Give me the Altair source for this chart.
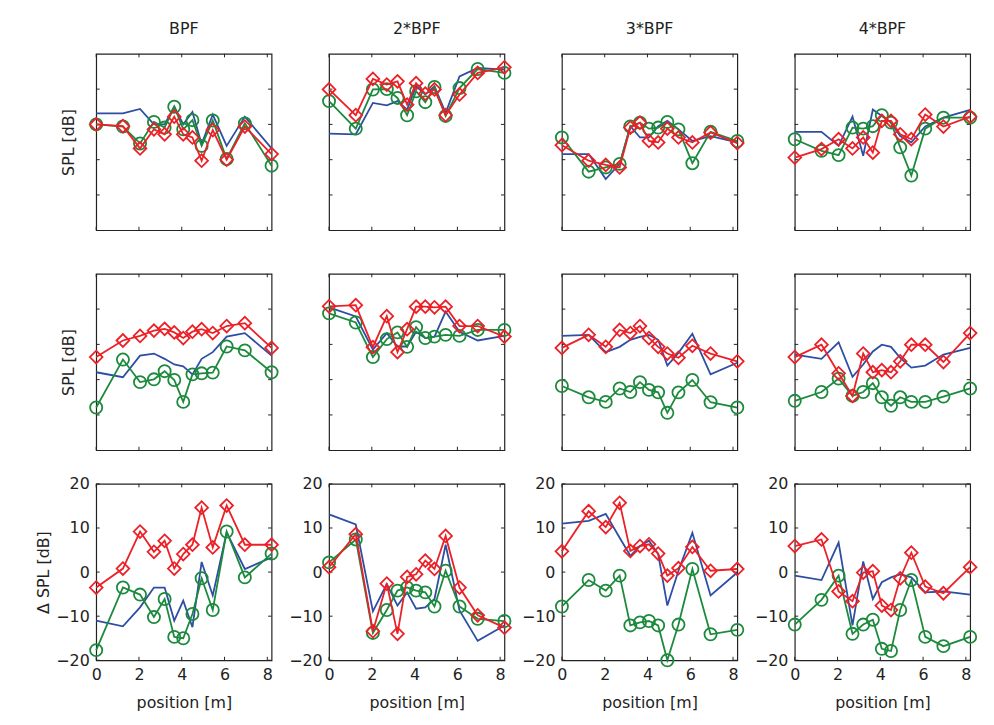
import altair as alt
import pandas as pd

# ---------------- data ----------------
positions = [0, 1.25, 2.05, 2.7, 3.2, 3.65, 4.07, 4.5, 4.93, 5.45, 6.1, 6.95, 8.2]
harmonics = ["BPF", "2*BPF", "3*BPF", "4*BPF"]
x_ticks = [0, 2, 4, 6, 8]
spl_ticks = [10, 20, 30, 40]
dspl_ticks = [-20, -10, 0, 10, 20]

# row 1: SPL (relative, unlabeled axis 0..50)
r1_blue_h1 = [33.1, 33.1, 34.4, 30.0, 30.0, 35.1, 30.0, 33.5, 24.4, 32.8, 23.9, 32.2, 23.2]
r1_green_h1 = [30.0, 29.4, 24.6, 30.7, 29.1, 35.0, 28.6, 31.2, 23.9, 31.1, 20.2, 30.3, 18.3]
r1_red_h1 = [30.0, 29.5, 23.2, 28.6, 27.2, 32.2, 27.2, 26.3, 19.7, 28.4, 20.0, 29.4, 21.6]

r1_blue_h2 = [27.4, 27.2, 36.1, 35.4, 36.6, 34.2, 40.8, 38.5, 40.8, 33.3, 43.6, 46.0, 45.5]
r1_green_h2 = [36.6, 28.8, 39.9, 40.0, 37.5, 32.6, 39.4, 36.3, 40.6, 32.4, 40.3, 45.7, 44.6]
r1_red_h2 = [39.9, 32.6, 42.9, 41.3, 42.2, 35.6, 41.7, 38.7, 39.9, 32.6, 38.5, 44.6, 46.2]

r1_blue_h3 = [21.6, 21.6, 14.5, 18.8, 29.5, 26.3, 26.3, 29.5, 31.0, 28.6, 25.3, 26.7, 24.9]
r1_green_h3 = [26.3, 16.6, 17.8, 18.8, 29.4, 30.5, 28.8, 29.1, 30.7, 28.6, 19.0, 27.9, 25.3]
r1_red_h3 = [24.1, 19.7, 18.5, 17.8, 29.1, 30.5, 25.3, 24.9, 28.8, 26.3, 24.9, 27.7, 24.7]

r1_blue_h4 = [27.9, 27.9, 23.9, 32.2, 21.1, 34.2, 32.4, 30.5, 26.7, 24.9, 29.4, 31.9, 34.1]
r1_green_h4 = [25.8, 22.5, 21.3, 29.1, 28.8, 29.5, 32.6, 30.5, 23.5, 15.5, 28.8, 31.9, 31.9]
r1_red_h4 = [20.6, 23.0, 25.8, 23.2, 26.3, 22.0, 31.0, 31.0, 27.2, 25.8, 32.8, 29.4, 32.2]

# row 2: SPL (relative, unlabeled axis 0..50)
r2_blue_h1 = [22.1, 20.7, 26.8, 27.4, 25.9, 24.3, 23.8, 21.5, 25.9, 27.8, 32.2, 33.2, 26.8]
r2_green_h1 = [12.1, 25.7, 19.3, 20.1, 22.4, 19.9, 13.7, 21.5, 21.8, 22.0, 29.4, 28.3, 22.1]
r2_red_h1 = [26.4, 31.1, 32.4, 33.9, 34.4, 33.4, 31.8, 33.6, 34.3, 33.2, 35.2, 36.0, 29.0]

r2_blue_h2 = [40.5, 37.9, 28.5, 33.2, 29.4, 29.4, 33.6, 31.8, 32.2, 39.3, 33.6, 31.1, 32.4]
r2_green_h2 = [38.8, 36.2, 26.4, 31.5, 33.4, 29.3, 34.9, 31.8, 32.2, 32.7, 32.4, 34.1, 34.1]
r2_red_h2 = [40.8, 41.1, 29.2, 38.0, 27.8, 34.3, 40.7, 40.7, 40.5, 40.7, 35.2, 35.2, 32.2]

r2_blue_h3 = [32.4, 32.7, 27.8, 29.3, 31.3, 32.1, 32.7, 31.3, 24.0, 27.6, 33.0, 21.5, 24.8]
r2_green_h3 = [18.2, 15.0, 13.7, 17.5, 16.5, 19.3, 17.1, 16.4, 10.6, 16.4, 19.9, 13.6, 12.1]
r2_red_h3 = [29.0, 32.7, 29.3, 34.1, 33.2, 35.2, 31.8, 29.3, 27.4, 26.2, 29.6, 27.4, 25.2]

r2_blue_h4 = [27.1, 25.9, 30.6, 20.8, 24.3, 28.0, 29.9, 29.3, 26.2, 23.4, 24.0, 27.1, 29.0]
r2_green_h4 = [14.0, 16.5, 20.3, 15.4, 16.5, 19.0, 15.0, 12.6, 15.0, 13.7, 13.7, 15.2, 17.5]
r2_red_h4 = [26.4, 29.9, 21.8, 15.4, 27.4, 22.1, 22.7, 22.1, 25.2, 29.9, 29.9, 25.0, 33.2]

# row 3: delta SPL [dB]
r3_blue_h1 = [-11.0, -12.3, -8.0, -3.5, -3.5, -11.0, -6.5, -12.5, 2.3, -5.3, 9.0, 0.7, 3.3]
r3_green_h1 = [-17.7, -3.5, -5.1, -10.2, -6.1, -14.7, -15.0, -9.5, -1.4, -8.6, 9.2, -1.2, 4.2]
r3_red_h1 = [-3.5, 0.8, 9.2, 4.6, 7.1, 0.8, 4.1, 6.2, 14.6, 5.6, 15.1, 6.2, 6.2]

r3_blue_h2 = [13.1, 10.8, -8.9, -2.7, -7.6, -4.6, -8.3, -8.0, -6.1, 6.2, -8.7, -15.6, -12.1]
r3_green_h2 = [2.2, 7.4, -13.8, -8.6, -4.2, -3.5, -4.2, -4.6, -7.8, 0.3, -7.8, -10.6, -11.1]
r3_red_h2 = [1.1, 8.6, -13.4, -2.6, -14.0, -1.1, -0.5, 2.6, 0.7, 8.2, -3.5, -9.8, -12.6]

r3_blue_h3 = [11.0, 11.6, 13.2, 7.8, 3.7, 5.9, 7.1, 4.1, -7.6, 0.3, 8.9, -5.3, -0.1]
r3_green_h3 = [-7.8, -1.8, -4.2, -0.8, -12.1, -11.4, -11.1, -12.1, -20.0, -11.9, 0.7, -14.1, -13.1]
r3_red_h3 = [4.7, 13.8, 10.2, 15.7, 4.8, 5.9, 6.3, 4.2, -0.8, 0.9, 5.7, 0.3, 0.7]

r3_blue_h4 = [-0.8, -1.8, 6.7, -12.1, 2.4, -6.1, -2.3, -1.2, -0.5, -1.2, -4.6, -4.4, -5.1]
r3_green_h4 = [-11.9, -6.3, -0.8, -14.0, -11.9, -10.8, -17.4, -17.9, -8.6, -1.8, -14.7, -16.8, -14.7]
r3_red_h4 = [5.9, 7.4, -4.4, -6.6, -0.1, 0.2, -7.6, -8.6, -1.4, 4.4, -3.3, -4.8, 1.1]

rows = [
    [(r1_blue_h1, r1_green_h1, r1_red_h1), (r1_blue_h2, r1_green_h2, r1_red_h2),
     (r1_blue_h3, r1_green_h3, r1_red_h3), (r1_blue_h4, r1_green_h4, r1_red_h4)],
    [(r2_blue_h1, r2_green_h1, r2_red_h1), (r2_blue_h2, r2_green_h2, r2_red_h2),
     (r2_blue_h3, r2_green_h3, r2_red_h3), (r2_blue_h4, r2_green_h4, r2_red_h4)],
    [(r3_blue_h1, r3_green_h1, r3_red_h1), (r3_blue_h2, r3_green_h2, r3_red_h2),
     (r3_blue_h3, r3_green_h3, r3_red_h3), (r3_blue_h4, r3_green_h4, r3_red_h4)],
]

# ---------------- style ----------------
W, H = 177, 178
TL = 3.5
BLUE, GREEN, RED = "#2c4ea3", "#1c8a3c", "#ec2027"
INK = "#222222"
FONT = "DejaVu Sans"
FS = 16
LW = 1.8


def make_panel(row, col, blue, green, red):
    df = pd.DataFrame({"pos": positions, "blue": blue, "green": green, "red": red})
    xscale = alt.Scale(domain=[0, 8.2], nice=False, zero=False)
    if row == 2:
        yscale = alt.Scale(domain=[-20, 20], nice=False, zero=False)
        yt = dspl_ticks
    else:
        yscale = alt.Scale(domain=[0, 50], nice=False, zero=False)
        yt = spl_ticks

    if row == 2:
        xaxis = alt.Axis(values=x_ticks, ticks=False, domain=False, grid=False,
                         labelPadding=6, titlePadding=13, labelFlush=False)
        xtitle = "position [m]"
    else:
        xaxis = None
        xtitle = None

    if col == 0 and row == 2:
        yaxis = alt.Axis(values=dspl_ticks, ticks=False, domain=False, grid=False,
                         labelPadding=7, titlePadding=4, labelFlush=False)
        ytitle = "Δ SPL [dB]"
    elif col == 0:
        yaxis = alt.Axis(labels=False, ticks=False, domain=False, grid=False, titlePadding=20)
        ytitle = "SPL [dB]"
    elif row == 2:
        yaxis = alt.Axis(values=dspl_ticks, ticks=False, domain=False, grid=False,
                         labelPadding=7, labelFlush=False)
        ytitle = None
    else:
        yaxis = None
        ytitle = None

    def X(f):
        return alt.X(f, scale=xscale, axis=xaxis, title=xtitle)

    def Y(f):
        return alt.Y(f, scale=yscale, axis=yaxis, title=ytitle)

    base = alt.Chart(df)
    blue_line = base.mark_line(color=BLUE, strokeWidth=LW).encode(x=X("pos:Q"), y=Y("blue:Q"))
    green_line = base.mark_line(color=GREEN, strokeWidth=LW).encode(x=X("pos:Q"), y=Y("green:Q"))
    green_pts = base.mark_point(shape="circle", filled=False, size=150, strokeWidth=LW,
                                color=GREEN, opacity=1).encode(x=X("pos:Q"), y=Y("green:Q"))
    red_line = base.mark_line(color=RED, strokeWidth=LW).encode(x=X("pos:Q"), y=Y("red:Q"))
    red_pts = base.mark_point(shape="diamond", filled=False, size=165, strokeWidth=LW,
                              color=RED, opacity=1).encode(x=X("pos:Q"), y=Y("red:Q"))

    xt_df = pd.DataFrame({"t": x_ticks})
    yt_df = pd.DataFrame({"t": yt})
    tb = alt.Chart(xt_df).mark_rule(color=INK, strokeWidth=1).encode(
        x=X("t:Q"), y=alt.value(H), y2=alt.value(H - TL))
    tt = alt.Chart(xt_df).mark_rule(color=INK, strokeWidth=1).encode(
        x=X("t:Q"), y=alt.value(0), y2=alt.value(TL))
    tl = alt.Chart(yt_df).mark_rule(color=INK, strokeWidth=1).encode(
        y=Y("t:Q"), x=alt.value(0), x2=alt.value(TL))
    tr = alt.Chart(yt_df).mark_rule(color=INK, strokeWidth=1).encode(
        y=Y("t:Q"), x=alt.value(W), x2=alt.value(W - TL))

    layer = alt.layer(tb, tt, tl, tr, blue_line, green_line, green_pts, red_line, red_pts)
    if row == 0:
        layer = layer.properties(width=W, height=H,
                                 title=alt.TitleParams(text=harmonics[col], fontSize=FS,
                                                       fontWeight="normal", offset=17,
                                                       anchor="middle", font=FONT, color=INK))
    else:
        layer = layer.properties(width=W, height=H)
    return layer


row_charts = []
for r in range(3):
    panels = [make_panel(r, c, *rows[r][c]) for c in range(4)]
    row_charts.append(alt.hconcat(*panels, spacing=58, bounds="flush"))

lower = alt.vconcat(row_charts[1], row_charts[2], spacing=23)
chart = alt.vconcat(row_charts[0], lower, spacing=40).properties(
    padding={"left": 27, "top": 8, "right": 5, "bottom": 5},
    background="white",
).configure(font=FONT).configure_view(
    stroke=INK, strokeWidth=1.2
).configure_axis(
    labelFont=FONT, titleFont=FONT, labelFontSize=FS, titleFontSize=FS,
    labelColor=INK, titleColor=INK, titleFontWeight="normal"
).configure_title(font=FONT, fontSize=FS, fontWeight="normal", color=INK)

chart.save("out.html", embed_options={"renderer": "svg", "actions": False})
